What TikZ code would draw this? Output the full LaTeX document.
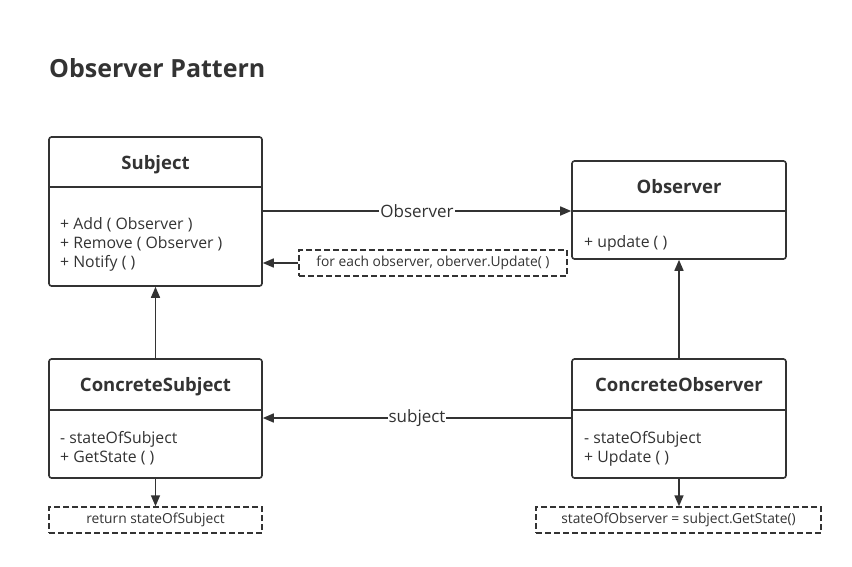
\documentclass[tikz,border=0pt]{standalone}
\usepackage{fontspec}
\setmainfont{Open Sans}
\usetikzlibrary{arrows.meta}
\definecolor{ink}{HTML}{333333}
\begin{document}
\begin{tikzpicture}[x=1pt,y=-1pt,
  umlbox/.style={draw=ink,line width=1.6pt,rounded corners=2.5pt,inner sep=0pt},
  notebox/.style={draw=ink,line width=1.4pt,dash pattern=on 6pt off 3pt,inner sep=0pt},
  ttl/.style={text=ink,font=\fontsize{18.5}{22}\selectfont\bfseries,inner sep=0pt,anchor=base},
  mem/.style={text=ink,font=\fontsize{15.8}{19}\selectfont,align=left,anchor=west,inner sep=0pt},
  note/.style={text=ink,font=\fontsize{13.8}{16}\selectfont,inner sep=0pt},
  lbl/.style={text=ink,fill=white,font=\fontsize{17}{19}\selectfont,inner sep=1pt},
  conn/.style={draw=ink,line width=1.6pt,-{Triangle[length=11pt,width=9pt]}},
  div/.style={draw=ink,line width=1.6pt}]
\useasboundingbox[fill=white] (0,0) rectangle (852,566);
\node[anchor=base west,text=ink,font=\fontsize{25}{29}\selectfont\bfseries,inner sep=0pt] (title) at (49,77) {Observer Pattern};
% Subject
\node[umlbox,minimum width=213pt,minimum height=149pt] (subj) at (155.5,211.5) {};
\draw[div] (49,187) -- (262,187);
\node[ttl] (subjT) at (155.5,169) {Subject};
\node[mem] (subjM) at (60,244) {+ Add ( Observer )\\+ Remove ( Observer )\\+ Notify ( )};
% Observer
\node[umlbox,minimum width=214pt,minimum height=98pt] (obs) at (679,210) {};
\draw[div] (572,211) -- (786,211);
\node[ttl] (obsT) at (679,193.5) {Observer};
\node[mem] (obsM) at (584,243) {+ update ( )};
% ConcreteSubject
\node[umlbox,minimum width=213pt,minimum height=119pt] (cs) at (155.5,418.5) {};
\draw[div] (49,410) -- (262,410);
\node[ttl] (csT) at (155.5,391.5) {ConcreteSubject};
\node[mem] (csM) at (60,448.5) {- stateOfSubject\\+ GetState ( )};
% ConcreteObserver
\node[umlbox,minimum width=214pt,minimum height=119pt] (co) at (679,418.5) {};
\draw[div] (572,410) -- (786,410);
\node[ttl] (coT) at (679,391.5) {ConcreteObserver};
\node[mem] (coM) at (584,448.5) {- stateOfSubject\\+ Update ( )};
% notes
\node[notebox,minimum width=268pt,minimum height=26pt] (n1) at (433,263) {};
\node[note] (n1t) at (433,263) {for each observer, oberver.Update( )};
\node[notebox,minimum width=213pt,minimum height=26pt] (n2) at (155.5,520) {};
\node[note] (n2t) at (155.5,520) {return stateOfSubject};
\node[notebox,minimum width=285pt,minimum height=26pt] (n3) at (678.5,520) {};
\node[note] (n3t) at (678.5,520) {stateOfObserver = subject.GetState()};
% connectors
\draw[conn] (subj.east |- 0,211) -- node[lbl] (l1) {Observer} (obs.west |- 0,211);
\draw[conn] (n1.west) -- (subj.east |- n1.west);
\draw[conn] (cs.north) -- (subj.south);
\draw[conn] (co.north) -- (obs.south);
\draw[conn] (co.west |- 0,418) -- node[lbl] (l2) {subject} (cs.east |- 0,418);
\draw[conn] (cs.south) -- (n2.north);
\draw[conn] (co.south) -- (n3.north -| co.south);
\end{tikzpicture}
\end{document}
